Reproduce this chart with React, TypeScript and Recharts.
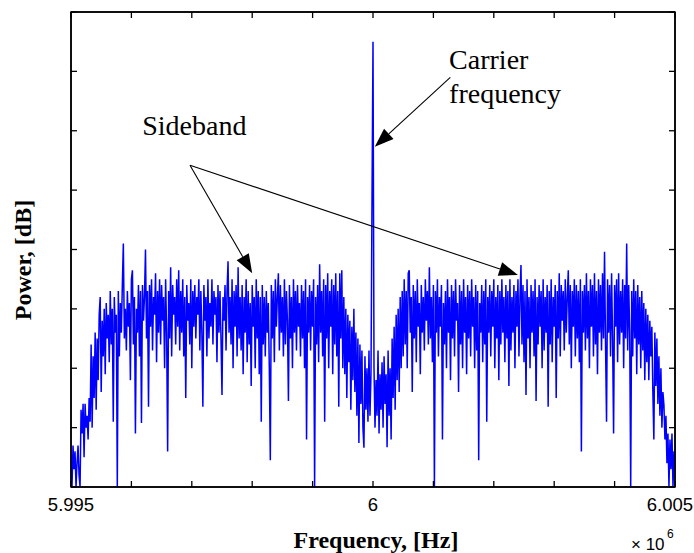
import { LineChart, Line, XAxis, YAxis, ReferenceLine, ReferenceDot, ReferenceArea, Label } from "recharts";

// power spectrum (arbitrary dB units, 0 = bottom of the axes, 8 = top)
// left roll-off, 5.995 MHz upwards
const edgeLeft = [
  0.5, 0, 0.7, 0.3, 0.6, 0, 0.4, 0.7, 0.2, 0,
  1.3, 0.9, 1.4, 0.5, 1.4, 1.0, 1.2, 0.8, 1.5, 1.1,
  2.4, 1.0, 2.2, 1.5, 2.6, 1.3, 2.5, 1.8, 2.9,
];
// lower sideband
const bandLeft = [
  3.2, 1.6, 2.8, 2.2, 3.0, 1.9, 3.1, 2.5, 2.9, 2.1, 3.3, 2.4, 3.0, 1.1, 3.2, 2.6, 2.9, 0, 3.3, 2.2,
  3.1, 2.6, 3.4, 4.1, 2.5, 3.0, 2.3, 3.3, 2.7, 3.1, 1.8, 3.5, 3.65, 2.4, 3.2, 0.9, 3.0, 2.6, 3.4, 2.2,
  3.3, 1.08, 3.4, 2.8, 3.2, 4.0, 2.5, 3.3, 1.35, 3.4, 2.7, 3.5, 2.3, 3.2, 2.9, 3.6, 2.1, 3.3, 2.6, 3.5,
  2.4, 3.4, 2.8, 3.2, 2.0, 3.5, 2.6, 0.6, 3.3, 2.5, 3.7, 2.2, 3.4, 2.9, 3.2, 2.4, 3.5, 2.7, 3.65, 2.3,
  3.3, 2.6, 3.5, 2.2, 3.2, 1.5, 3.4, 2.8, 3.1, 2.4, 3.5, 2.0, 3.3, 2.7, 3.4, 2.5, 3.2, 2.9, 3.5, 2.3,
  3.3, 2.6, 1.35, 3.4, 2.8, 3.2, 2.2, 3.5, 2.5, 3.1, 2.7, 3.5, 2.4, 3.3, 2.9, 3.2, 2.1, 3.4, 2.6, 3.3,
  2.5, 1.55, 3.2, 2.8, 3.4, 2.3, 3.3, 3.8, 2.6, 3.2, 2.4, 3.5, 2.0, 3.3, 2.7, 3.4, 2.2, 3.7, 2.5, 3.2,
  2.3, 3.4, 1.9, 3.2, 2.6, 3.5, 2.1, 3.3, 2.4, 3.1, 1.7, 3.4, 2.7, 3.2, 2.0, 3.5, 2.5, 3.3, 1.9, 3.2,
  1.1, 3.4, 2.4, 3.2, 2.2, 3.3, 2.6, 3.1, 2.0, 0.45, 3.4, 2.5, 3.3, 2.1, 3.5, 2.7, 3.2, 3.6, 2.3, 3.4,
  2.6, 3.2, 2.2, 3.5, 2.4, 3.3, 2.8, 1.45, 3.4, 2.5, 3.2, 2.0, 3.5, 2.6, 3.3, 2.3, 3.4, 2.7, 3.1, 2.2,
  3.4, 2.5, 3.3, 2.0, 3.5, 0.8, 3.2, 2.6, 3.4, 2.3, 3.3, 2.7, 3.5, 0, 3.2, 2.4, 3.4, 2.1, 3.75, 2.6,
  3.3, 2.2, 3.5, 1.1, 3.4, 2.5, 3.6, 2.0, 3.3, 2.7, 3.5, 1.9, 3.4, 2.4, 3.6, 2.2, 3.3, 1.35, 3.6, 2.5, 3.65, 2.0,
];
// dip round the carrier (carrier line in the middle)
const centre = [
  3.2, 1.9, 3.0, 1.5, 2.9, 2.1, 2.8, 1.3, 2.7, 1.8, 3.0, 1.6, 2.6, 1.2, 2.5, 0.74, 2.4, 1.4, 2.3, 1.0,
  0.66, 2.2, 1.3, 2.0, 1.1, 2.3, 1.2, 1.9, 4.8, 7.5, 2.0, 1.0, 1.8, 1.2, 2.3, 0.9, 1.9, 1.3, 2.1, 1.0,
  2.2, 1.4, 1.9, 0.67, 2.3, 1.2, 2.0, 0.8, 2.5, 1.5, 2.7, 1.3, 2.9, 1.8, 3.0, 1.6, 3.2, 2.0, 3.3, 2.2,
];
// upper sideband
const bandRight = [
  3.5, 2.4, 3.3, 2.0, 3.6, 3.65, 2.6, 3.2, 1.6, 3.4, 2.5, 3.3, 2.1, 3.5, 2.7, 3.1, 1.9, 3.4, 2.6, 3.2,
  2.3, 3.5, 2.8, 3.3, 2.4, 3.7, 2.5, 3.2, 2.1, 3.4, 0, 3.3, 2.6, 3.5, 2.2, 3.2, 2.7, 3.4, 0.8, 3.1,
  2.4, 3.3, 2.0, 3.5, 2.6, 3.2, 1.8, 3.4, 2.5, 3.3, 2.2, 3.5, 2.8, 3.1, 1.6, 3.4, 2.4, 3.3, 2.0, 3.5,
  2.6, 3.2, 1.9, 3.4, 2.5, 3.3, 2.2, 3.5, 2.7, 3.2, 2.0, 3.4, 2.3, 3.3, 0.45, 3.1, 2.6, 3.4, 2.1, 3.3,
  2.4, 3.5, 1.1, 3.2, 2.6, 3.4, 2.2, 3.3, 2.7, 3.5, 2.0, 3.2, 2.5, 3.4, 1.8, 3.3, 2.4, 3.5, 2.6, 3.2,
  2.1, 3.4, 2.5, 3.3, 1.7, 3.5, 2.3, 3.2, 2.6, 3.4, 2.0, 3.3, 2.7, 3.5, 2.2, 3.2, 3.74, 2.4, 3.4, 2.1,
  3.3, 1.55, 3.5, 2.5, 3.2, 2.0, 3.4, 2.6, 3.3, 2.2, 3.5, 1.45, 3.2, 2.4, 3.4, 2.7, 3.3, 2.0, 3.5, 2.3,
  3.2, 2.6, 3.4, 1.35, 3.3, 2.4, 3.5, 2.1, 3.2, 2.7, 3.4, 1.5, 3.3, 2.5, 3.6, 2.2, 3.4, 2.8, 3.3, 2.3,
  3.5, 2.6, 3.2, 3.65, 2.4, 3.4, 2.0, 3.3, 2.7, 3.5, 2.2, 3.4, 2.5, 3.3, 2.1, 3.5, 0.6, 3.3, 2.6, 3.4,
  2.3, 3.6, 2.5, 3.3, 2.0, 3.5, 2.7, 3.4, 2.2, 3.6, 2.4, 3.3, 1.9, 3.5, 2.6, 3.4, 2.3, 3.6, 2.5, 3.96,
  2.4, 1.1, 3.5, 2.6, 3.4, 2.2, 3.6, 2.5, 0.9, 3.4, 2.7, 3.5, 2.1, 3.6, 2.4, 3.3, 2.6, 3.5, 2.0, 3.4,
  2.5, 4.1, 2.3, 3.4, 2.6, 0, 3.3, 2.2, 3.5, 2.5, 3.3, 1.9, 3.4, 2.4, 3.2, 2.0, 3.3, 2.3, 3.1, 1.8,
];
// right roll-off, up to 6.005 MHz
const edgeRight = [
  3.0, 2.1, 2.9, 1.8, 2.8, 2.2, 2.7, 1.6, 0.8, 2.6,
  1.7, 2.5, 1.4, 2.2, 1.2, 2.0, 1.0, 1.6, 1.38, 0.8,
  1.2, 0.4, 0.9, 0, 0.8, 0.3, 0.9, 0, 0.6, 0.4,
];

const F_START = 5.995; // MHz (axis is x10^6 Hz)
const F_END = 6.005;
const Y_MAX = 8;
const xTicks = [5.995, 5.996, 5.997, 5.998, 5.999, 6, 6.001, 6.002, 6.003, 6.004, 6.005];
const xLabelled = [5.995, 6, 6.005];
const yTicks = [0, 1, 2, 3, 4, 5, 6, 7, 8];

// annotation anchors, in data units
const carrierArrow = [{ x: 6.00128, y: 6.9 }, { x: 6.00003, y: 5.73 }];
const sidebandFrom = { x: 5.99697, y: 5.42 };
const sidebandTips = [{ x: 5.998, y: 3.6 }, { x: 6.0024, y: 3.57 }];
const carrierText = { x: 6.00126, y: 7.04 };
const sidebandText = { x: 5.99618, y: 5.93 };

const power = [...edgeLeft, ...bandLeft, ...centre, ...bandRight, ...edgeRight];
const data = power.map((p, i) => ({
  f: F_START + (i * (F_END - F_START)) / (power.length - 1),
  p,
}));

const SERIF = "'Liberation Serif', 'Times New Roman', serif";
const SANS = "'Liberation Sans', Arial, sans-serif";
const AXIS_LINE = { stroke: "#000", strokeWidth: 1.5 };

const BottomTick = (props: any) => {
  const { x, y, payload } = props;
  const lab = xLabelled.find((t) => Math.abs(t - payload.value) < 1e-9);
  const last = lab === F_END;
  return (
    <g>
      <line x1={x} y1={y} x2={x} y2={y - 6} stroke="#000" strokeWidth={1.3} />
      {lab !== undefined && (
        <text
          x={last ? 693 : x}
          y={y + 24}
          textAnchor={last ? "end" : "middle"}
          fontFamily={SANS}
          fontSize={18.5}
          fill="#000"
        >
          {String(lab)}
        </text>
      )}
    </g>
  );
};
const TopTick = (props: any) => (
  <line x1={props.x} y1={props.y} x2={props.x} y2={props.y + 6} stroke="#000" strokeWidth={1.3} />
);
const LeftTick = (props: any) => (
  <line x1={props.x} y1={props.y} x2={props.x + 6} y2={props.y} stroke="#000" strokeWidth={1.3} />
);
const RightTick = (props: any) => (
  <line x1={props.x} y1={props.y} x2={props.x - 6} y2={props.y} stroke="#000" strokeWidth={1.3} />
);

const arrowShape = (props: any) => {
  const { x1, y1, x2, y2 } = props;
  const dx = x2 - x1;
  const dy = y2 - y1;
  const len = Math.hypot(dx, dy) || 1;
  const ux = dx / len;
  const uy = dy / len;
  const hl = 19;
  const hw = 7;
  const bx = x2 - ux * hl;
  const by = y2 - uy * hl;
  const pts = `${x2},${y2} ${bx - uy * hw},${by + ux * hw} ${bx + uy * hw},${by - ux * hw}`;
  return (
    <g>
      <line x1={x1} y1={y1} x2={bx} y2={by} stroke="#000" strokeWidth={1.1} />
      <polygon points={pts} fill="#000" />
    </g>
  );
};

export default function App() {
  return (
    <div style={{ position: "absolute", left: 0, top: 0, width: 694, height: 553, background: "#fff" }}>
      <LineChart width={694} height={553} data={data} margin={{ top: 0, right: 0, bottom: 0, left: 0 }}>
        <XAxis
          dataKey="f"
          type="number"
          domain={[F_START, F_END]}
          ticks={xTicks}
          interval={0}
          tickSize={0}
          tickMargin={0}
          tickLine={false}
          tick={BottomTick}
          axisLine={AXIS_LINE}
          height={66}
          allowDataOverflow
        >
          <Label
            content={() => (
              <g>
                <text x={376} y={548} textAnchor="middle" fontFamily={SERIF} fontWeight="bold" fontSize={24} fill="#000">
                  Frequency, [Hz]
                </text>
                <text x={631} y={550} fontFamily={SANS} fontSize={17} fill="#000">
                  × 10
                </text>
                <text x={667} y={538} fontFamily={SANS} fontSize={12} fill="#000">
                  6
                </text>
              </g>
            )}
          />
        </XAxis>
        <XAxis
          xAxisId="top"
          orientation="top"
          dataKey="f"
          type="number"
          domain={[F_START, F_END]}
          ticks={xTicks}
          interval={0}
          tickSize={0}
          tickMargin={0}
          tickLine={false}
          tick={TopTick}
          axisLine={AXIS_LINE}
          height={12}
          allowDataOverflow
        />
        <YAxis
          type="number"
          domain={[0, Y_MAX]}
          ticks={yTicks}
          interval={0}
          tickSize={0}
          tickMargin={0}
          tickLine={false}
          tick={LeftTick}
          axisLine={AXIS_LINE}
          width={71}
          allowDataOverflow
        >
          <Label
            content={() => (
              <text
                x={31}
                y={260}
                transform="rotate(-90, 31, 260)"
                textAnchor="middle"
                fontFamily={SERIF}
                fontWeight="bold"
                fontSize={24}
                fill="#000"
              >
                Power, [dB]
              </text>
            )}
          />
        </YAxis>
        <YAxis
          yAxisId="right"
          orientation="right"
          type="number"
          domain={[0, Y_MAX]}
          ticks={yTicks}
          interval={0}
          tickSize={0}
          tickMargin={0}
          tickLine={false}
          tick={RightTick}
          axisLine={AXIS_LINE}
          width={19}
          allowDataOverflow
        />
        {/* axes box */}
        <ReferenceArea
          x1={F_START}
          x2={F_END}
          y1={0}
          y2={Y_MAX}
          fill="none"
          fillOpacity={0}
          stroke="#000"
          strokeWidth={1.5}
          strokeOpacity={1}
          ifOverflow="visible"
        />
        <Line
          type="linear"
          dataKey="p"
          stroke="#0000ff"
          strokeWidth={1.5}
          dot={false}
          isAnimationActive={false}
        />
        <ReferenceLine segment={carrierArrow} shape={arrowShape} ifOverflow="visible" />
        {sidebandTips.map((tip, i) => (
          <ReferenceLine key={i} segment={[sidebandFrom, tip]} shape={arrowShape} ifOverflow="visible" />
        ))}
        <ReferenceDot
          x={carrierText.x}
          y={carrierText.y}
          r={0}
          ifOverflow="visible"
          shape={(p: any) => (
            <text x={p.cx} y={p.cy} fontFamily={SERIF} fontSize={28} fill="#000">
              <tspan x={p.cx}>Carrier</tspan>
              <tspan x={p.cx} dy={34}>frequency</tspan>
            </text>
          )}
        />
        <ReferenceDot
          x={sidebandText.x}
          y={sidebandText.y}
          r={0}
          ifOverflow="visible"
          shape={(p: any) => (
            <text x={p.cx} y={p.cy} fontFamily={SERIF} fontSize={28} fill="#000">
              Sideband
            </text>
          )}
        />
      </LineChart>
    </div>
  );
}
